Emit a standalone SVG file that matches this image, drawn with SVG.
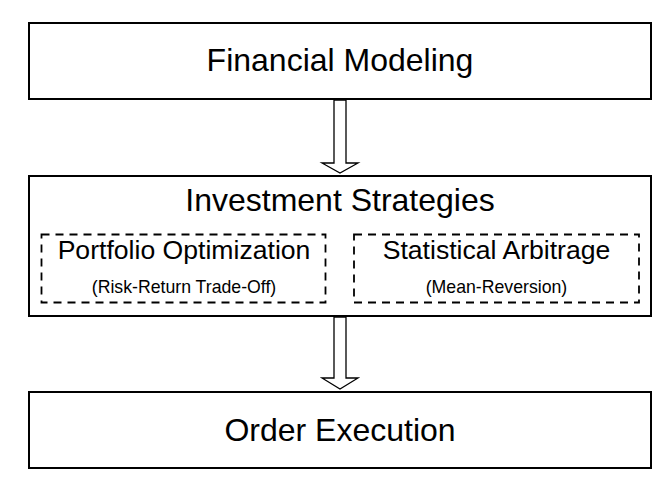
<svg xmlns="http://www.w3.org/2000/svg" width="666" height="487" viewBox="0 0 666 487">
<style>
.box{fill:#fff;stroke:#000;stroke-width:2}
.dash{fill:none;stroke:#000;stroke-width:1.8;stroke-dasharray:8,6}
.arrow{fill:#fff;stroke:#000;stroke-width:1.3;stroke-linejoin:miter}
text{font-family:"Liberation Sans",Arial,sans-serif;fill:#000;text-anchor:middle}
.big{font-size:32px}
.mid{font-size:26.6px}
.small{font-size:17.7px}
</style>
<rect width="666" height="487" fill="#fff"/>
<g id="financial-modeling">
<rect class="box" x="29" y="23" width="622" height="76"/>
<text class="big" x="340" y="71">Financial Modeling</text>
</g>
<g id="investment-strategies">
<rect class="box" x="29" y="176" width="622" height="140"/>
<text class="big" x="340" y="211">Investment Strategies</text>
</g>
<g id="portfolio-optimization">
<rect class="dash" x="41.5" y="234.5" width="284" height="68"/>
<text class="mid" x="184" y="259">Portfolio Optimization</text>
<text class="small" x="184" y="293">(Risk-Return Trade-Off)</text>
</g>
<g id="statistical-arbitrage">
<rect class="dash" x="354" y="234.5" width="285" height="68"/>
<text class="mid" x="496.5" y="259">Statistical Arbitrage</text>
<text class="small" x="496.5" y="293">(Mean-Reversion)</text>
</g>
<g id="order-execution">
<rect class="box" x="29" y="392" width="622" height="76"/>
<text class="big" x="340" y="440.5">Order Execution</text>
</g>
<g id="connectors">
<polygon class="arrow" points="334,100 346,100 346,163 358,163 340,173 322,163 334,163"/>
<polygon class="arrow" points="334,317 346,317 346,378 358,378 340,389 322,378 334,378"/>
</g>
</svg>
